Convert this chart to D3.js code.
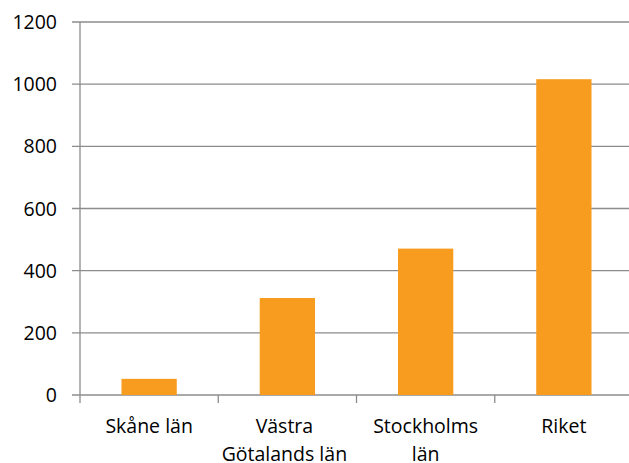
<!DOCTYPE html>
<html>
<head>
<meta charset="utf-8">
<script src="https://cdn.jsdelivr.net/npm/d3@7"></script>
<style>
  body { margin: 0; background: #fff; }
  text { font-family: "Open Sans", Lato, sans-serif; fill: #000; }
</style>
</head>
<body>
<div id="chart"></div>
<script>
// chart data
const categories = [['Skåne län'], ['Västra', 'Götalands län'], ['Stockholms', 'län'], ['Riket']];
const values = [52, 312, 471, 1016];
const yTicks = [0, 200, 400, 600, 800, 1000, 1200];

const svgWidth = 629;
const svgHeight = 463;
const margin = { top: 22, right: -4, bottom: 68, left: 80 };
const width = svgWidth - margin.left - margin.right;
const height = svgHeight - margin.top - margin.bottom;

const svg = d3.select('#chart')
    .append('svg')
    .attr('width', svgWidth)
    .attr('height', svgHeight)
    .append('g')
    .attr('transform', `translate(${margin.left},${margin.top})`);

const xScale = d3.scaleBand()
    .domain(d3.range(categories.length))
    .range([0, width]);

const yScale = d3.scaleLinear()
    .domain([0, 1200])
    .range([height, 0]);

// gridlines
svg.selectAll('.grid')
    .data(yTicks)
    .enter()
    .append('line')
    .attr('x1', -8)
    .attr('x2', width)
    .attr('y1', d => yScale(d))
    .attr('y2', d => yScale(d))
    .attr('stroke', '#8c8c8c')
    .attr('stroke-width', 1.3);

// y axis labels
svg.selectAll('.ylab')
    .data(yTicks)
    .enter()
    .append('text')
    .attr('x', -23)
    .attr('y', d => yScale(d))
    .attr('dy', '0.36em')
    .attr('text-anchor', 'end')
    .style('font-size', '19.5px')
    .text(d => d);

// y axis line
svg.append('line')
    .attr('x1', 0).attr('x2', 0)
    .attr('y1', 0).attr('y2', height)
    .attr('stroke', '#8c8c8c')
    .attr('stroke-width', 1.3);

// category ticks
svg.selectAll('.xtick')
    .data(d3.range(categories.length + 1))
    .enter()
    .append('line')
    .attr('x1', d => d * xScale.step())
    .attr('x2', d => d * xScale.step())
    .attr('y1', height)
    .attr('y2', height + 8)
    .attr('stroke', '#8c8c8c')
    .attr('stroke-width', 1.3);

const barW = xScale.bandwidth() * 0.4;

svg.selectAll('rect')
    .data(values)
    .enter()
    .append('rect')
    .attr('x', (d, i) => xScale(i) + (xScale.bandwidth() - barW) / 2)
    .attr('y', d => yScale(d))
    .attr('width', barW)
    .attr('height', d => height - yScale(d))
    .attr('fill', '#f79c1f');

// category labels
const lab = svg.selectAll('.xlab')
    .data(categories)
    .enter()
    .append('text')
    .attr('text-anchor', 'middle')
    .style('font-size', '19.5px')
    .attr('transform', (d, i) => `translate(${xScale(i) + xScale.bandwidth() / 2 - (i === 1 ? 3 : 0)},${height + 38})`);

lab.selectAll('tspan')
    .data(d => d)
    .enter()
    .append('tspan')
    .attr('x', 0)
    .attr('y', (d, i) => i * 28)
    .text(d => d);
</script>
</body>
</html>
